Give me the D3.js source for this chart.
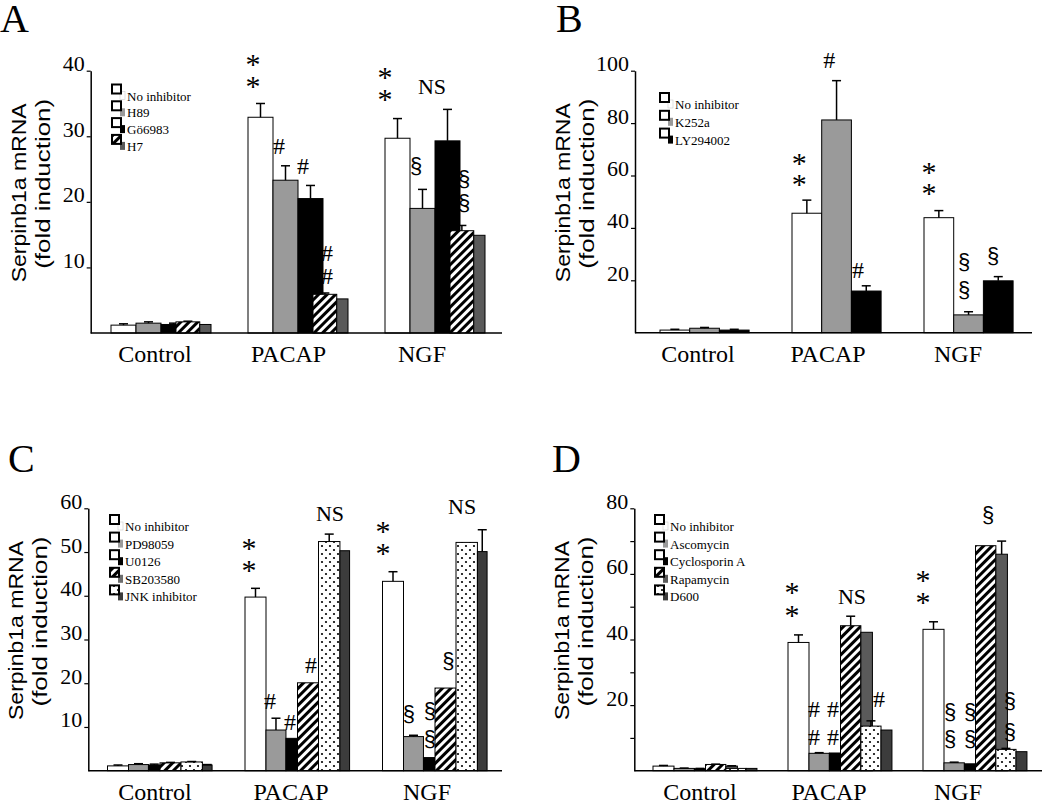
<!DOCTYPE html>
<html><head><meta charset="utf-8">
<script src="https://cdn.jsdelivr.net/npm/d3@7"></script>
<style>body{margin:0;background:#fff}svg{display:block}</style>
</head><body><svg id="c" width="1050" height="801"></svg>
<script>
const categories = ["Control", "PACAP", "NGF"];

// ---- Panel A ----
const seriesA = ["No inhibitor", "H89", "Gö6983", "H7"];
const valuesA = [[1.2, 1.5, 1.3, 1.7, 1.3], [32.9, 23.3, 20.5, 5.9, 5.2], [29.7, 19.0, 29.3, 15.6, 14.9]];
const errorsA = [[0.2, 0.2, 0.2, 0.1, 0], [2.1, 2.2, 2.0, 0.2, 0], [3.0, 2.9, 4.8, 0.8, 0]];
const ticksA = [10, 20, 30, 40];
const notesA = [["PACAP",0.2,41.7,"*"],["PACAP",0.2,38.3,"*"],["PACAP",1.24,28.5,"#"],["PACAP",2.2,25.5,"#"],
  ["PACAP",3.16,12.2,"#"],["PACAP",3.16,8.7,"#"],["NGF",0.0,39.7,"*"],["NGF",0.0,36.3,"*"],["NGF",1.88,37.6,"NS"],
  ["NGF",1.24,25.3,"§"],["NGF",3.16,23.4,"§"],["NGF",3.16,19.7,"§"]];

// ---- Panel B ----
const seriesB = ["No inhibitor", "K252a", "LY294002"];
const valuesB = [[1.0, 1.7, 1.0], [45.6, 81.2, 15.9], [43.9, 6.8, 19.8]];
const errorsB = [[0.3, 0.3, 0.3], [5.0, 15.0, 2.0], [2.7, 1.2, 1.6]];
const ticksB = [20, 40, 60, 80, 100];
const notesB = [["PACAP",0.24,66.3,"*"],["PACAP",0.24,58.3,"*"],["PACAP",1.25,104.1,"#"],["PACAP",2.22,23.9,"#"],
  ["NGF",0.17,62.9,"*"],["NGF",0.17,54.9,"*"],["NGF",1.35,26.6,"§"],["NGF",1.35,15.9,"§"],["NGF",2.33,28.9,"§"]];

// ---- Panel C ----
const seriesC = ["No inhibitor", "PD98059", "U0126", "SB203580", "JNK inhibitor"];
const valuesC = [[1.1, 1.4, 1.3, 1.8, 2.0, 1.3], [39.7, 9.3, 7.4, 20.1, 52.4, 50.3], [43.3, 7.8, 3.0, 18.9, 52.2, 50.1]];
const errorsC = [[0.2, 0.2, 0.2, 0.1, 0.1, 0.1], [2.0, 2.7, 0, 0, 1.7, 0], [2.2, 0.3, 0, 0, 0, 5.0]];
const ticksC = [10, 20, 30, 40, 50, 60];
const notesC = [["PACAP",0.19,51.8,"*"],["PACAP",0.19,46.8,"*"],["PACAP",4.05,58.9,"NS"],["PACAP",1.19,15.9,"#"],
  ["PACAP",2.14,11.1,"#"],["PACAP",3.14,24.2,"#"],["NGF",0.02,55.7,"*"],["NGF",0.02,50.7,"*"],["NGF",3.79,60.3,"NS"],
  ["NGF",1.26,12.7,"§"],["NGF",2.26,13.4,"§"],["NGF",2.26,7.0,"§"],["NGF",3.14,24.9,"§"]];

// ---- Panel D ----
const seriesD = ["No inhibitor", "Ascomycin", "Cyclosporin A", "Rapamycin", "D600"];
const valuesD = [[1.4, 0.7, 0.6, 1.9, 1.4, 0.7, 0.7], [39.1, 5.3, 5.4, 44.2, 42.2, 13.6, 12.4], [43.1, 2.4, 2.1, 68.6, 66.0, 6.5, 5.8]];
const errorsD = [[0.2, 0.1, 0.1, 0.1, 0.1, 0, 0], [2.3, 0.2, 0, 2.9, 0, 1.6, 0], [2.3, 0.2, 0, 0, 4.0, 0.3, 0]];
const ticksD = [20, 40, 60, 80];
const minorTicksD = [10, 30, 50, 70];
const notesD = [["PACAP",0.19,55.7,"*"],["PACAP",0.19,48.7,"*"],["PACAP",3.05,53.0,"NS"],["PACAP",1.24,18.8,"#"],
  ["PACAP",1.24,10.3,"#"],["PACAP",2.14,18.8,"#"],["PACAP",2.14,10.3,"#"],["PACAP",4.33,21.9,"#"],
  ["NGF",0.0,59.4,"*"],["NGF",0.0,52.7,"*"],["NGF",3.1,77.7,"§"],["NGF",1.29,17.6,"§"],["NGF",1.29,9.4,"§"],
  ["NGF",2.24,17.6,"§"],["NGF",2.24,9.4,"§"],["NGF",4.14,20.9,"§"],["NGF",4.14,11.5,"§"]];

// ---- styles ----
const fills = {white:"#ffffff", gray:"#9a9a9a", black:"#000000", hatch:"url(#hatch)", dots:"url(#dots)", dk:"#5a5a5a", dk2:"#3c3c3c", mid:"#6e6e6e"};

const svg = d3.select("#c");
svg.append("rect").attr("width",1050).attr("height",801).attr("fill","#fff");
const defs = svg.append("defs");
const hatch = defs.append("pattern").attr("id","hatch").attr("patternUnits","userSpaceOnUse")
  .attr("width",6).attr("height",6).attr("patternTransform","rotate(45)");
hatch.append("rect").attr("width",6).attr("height",6).attr("fill","#fff");
hatch.append("rect").attr("width",3).attr("height",6).attr("fill","#000");
const dots = defs.append("pattern").attr("id","dots").attr("patternUnits","userSpaceOnUse").attr("width",8).attr("height",8);
dots.append("rect").attr("width",8).attr("height",8).attr("fill","#fff");
dots.append("circle").attr("cx",2).attr("cy",2).attr("r",1.1).attr("fill","#000");
dots.append("circle").attr("cx",6).attr("cy",6).attr("r",1.1).attr("fill","#000");

const noteStyle = {
  "*": {font:"Liberation Serif", size:30, off:14},
  "#": {font:"Liberation Serif", size:24, off:8},
  "§": {font:"Liberation Sans", size:22, off:6},
  "NS": {font:"Liberation Serif", size:22, off:7.5}
};

function drawPanel(p) {
  const g = svg.append("g");
  const y = d3.scaleLinear().domain([0, p.yMax]).range([p.yBase, p.yTop]);
  const gx = d3.scalePoint().domain(categories).range(p.groupRange);
  const lx = d3.scalePoint().domain(categories).range(p.labelRange);

  // bars
  categories.forEach((c, ci) => {
    p.values[ci].forEach((v, li) => {
      const x0 = gx(c) + p.slots[li] * p.w, bw = p.widths[li] * p.w;
      g.append("rect").attr("x", x0).attr("y", y(v)).attr("width", bw).attr("height", y(0) - y(v))
        .attr("fill", fills[p.fills[li]]).attr("stroke", "#000").attr("stroke-width", 1);
      const e = p.errors[ci][li];
      if (e > 0) {
        const cx = x0 + bw / 2;
        g.append("line").attr("x1", cx).attr("x2", cx).attr("y1", y(v)).attr("y2", y(v + e))
          .attr("stroke", "#000").attr("stroke-width", 1.5);
        g.append("line").attr("x1", cx - 4.5).attr("x2", cx + 4.5).attr("y1", y(v + e)).attr("y2", y(v + e))
          .attr("stroke", "#000").attr("stroke-width", 1.5);
      }
    });
  });

  // axes
  const yAxis = d3.axisLeft(y).tickValues(p.ticks).tickSize(4).tickSizeOuter(0).tickPadding(2).tickFormat(d3.format("d"));
  const ag = g.append("g").attr("transform", `translate(${p.ax},0)`).call(yAxis)
    .attr("font-family", "Liberation Serif").attr("font-size", 22);
  ag.select(".domain").attr("stroke-width", 1.5);
  ag.selectAll(".tick line").attr("stroke-width", 1.2);
  ag.selectAll("text").attr("dy", "0").attr("fill", "#000");
  if (p.minor) {
    const mg = g.append("g").attr("transform", `translate(${p.ax},0)`)
      .call(d3.axisLeft(y).tickValues(p.minor).tickSize(4).tickSizeOuter(0).tickFormat(""));
    mg.select(".domain").remove();
    mg.selectAll(".tick line").attr("stroke-width", 1.2);
  }
  g.append("line").attr("x1", p.ax).attr("x2", p.xEnd).attr("y1", y(0)).attr("y2", y(0))
    .attr("stroke", "#000").attr("stroke-width", 1.5);

  // category labels
  categories.forEach(c => {
    g.append("text").attr("x", lx(c)).attr("y", y(0) + 29).attr("text-anchor", "middle")
      .attr("font-family", "Liberation Serif").attr("font-size", 24).text(c);
  });

  // y title
  const yc = (p.yBase + p.yTop) / 2;
  g.append("text").attr("transform", `translate(${p.ax - 65},${yc - 9}) rotate(-90)`).attr("text-anchor", "middle")
    .attr("font-family", "Liberation Sans").attr("font-size", 21)
    .attr("textLength", 179).attr("lengthAdjust", "spacingAndGlyphs").text("Serpinb1a mRNA");
  g.append("text").attr("transform", `translate(${p.ax - 41},${yc - 18}) rotate(-90)`).attr("text-anchor", "middle")
    .attr("font-family", "Liberation Sans").attr("font-size", 21)
    .attr("textLength", 170).attr("lengthAdjust", "spacingAndGlyphs").text("(fold induction)");

  // panel letter
  g.append("text").attr("x", p.letterPos[0]).attr("y", p.letterPos[1]).attr("font-family", "Liberation Serif")
    .attr("font-size", 40).text(p.letter);

  // legend
  p.series.forEach((s, i) => {
    const top = p.legend.top + i * p.legend.step, x = p.legend.x;
    g.append("rect").attr("x", x + 8).attr("y", top + 7).attr("width", 5).attr("height", 8)
      .attr("fill", fills[p.legend.swatch[i]]).attr("stroke", p.legend.swatch[i] === "white" ? "#ccc" : "none").attr("stroke-width", 0.6);
    g.append("rect").attr("x", x).attr("y", top).attr("width", 9).attr("height", 9)
      .attr("fill", fills[p.legend.square[i]]).attr("stroke", "#000").attr("stroke-width", 2);
    g.append("text").attr("x", x + 15).attr("y", top + 16).attr("font-family", "Liberation Serif")
      .attr("font-size", 13).text(s);
  });

  // significance marks
  p.notes.forEach(([c, slot, v, t]) => {
    const st = noteStyle[t];
    g.append("text").attr("x", gx(c) + slot * p.w).attr("y", y(v) + st.off).attr("text-anchor", "middle")
      .attr("font-family", st.font).attr("font-size", st.size).text(t);
  });
}

drawPanel({ax:90.7, xEnd:502, yBase:333, yTop:70.7, yMax:40, ticks:ticksA, groupRange:[111,385], w:25,
  slots:[0,1,2,2.6,3.55], widths:[1,1,1,0.95,0.45], fills:["white","gray","black","hatch","dk"],
  values:valuesA, errors:errorsA, labelRange:[155,422], letter:"A", letterPos:[0,32], series:seriesA,
  legend:{x:112, top:84.5, step:16.8, square:["white","white","white","hatch"], swatch:["white","gray","black","dk"]},
  notes:notesA});

drawPanel({ax:635, xEnd:1032, yBase:332.7, yTop:70.7, yMax:100, ticks:ticksB, groupRange:[660,924], w:29.7,
  slots:[0,1,2], widths:[1,1,1], fills:["white","gray","black"],
  values:valuesB, errors:errorsB, labelRange:[698,958], letter:"B", letterPos:[556,32], series:seriesB,
  legend:{x:660, top:93, step:17.8, square:["white","white","white"], swatch:["white","gray","black"]},
  notes:notesB});

drawPanel({ax:88.3, xEnd:502, yBase:770.7, yTop:508.3, yMax:60, ticks:ticksC, groupRange:[107.5,382.5], w:21,
  slots:[0,1,1.95,2.5,3.5,4.52], widths:[1,0.95,0.55,1,1.02,0.46], fills:["white","gray","black","hatch","dots","dk2"],
  values:valuesC, errors:errorsC, labelRange:[155,427], letter:"C", letterPos:[8,472], series:seriesC,
  legend:{x:110, top:515, step:17.6, square:["white","white","white","hatch","dots"], swatch:["white","gray","black","mid","dk2"]},
  notes:notesC});

drawPanel({ax:634.3, xEnd:1042, yBase:770.7, yTop:508.3, yMax:80, ticks:ticksD, minor:minorTicksD, groupRange:[653,923], w:21,
  slots:[0,1,1.97,2.5,3.47,3.47,4.43], widths:[1,0.97,0.53,0.97,0.55,0.96,0.52], fills:["white","gray","black","hatch","dk","dots","dk2"],
  values:valuesD, errors:errorsD, labelRange:[700,958], letter:"D", letterPos:[552,472], series:seriesD,
  legend:{x:655, top:515, step:17.6, square:["white","white","white","hatch","dots"], swatch:["white","gray","black","dk","dk2"]},
  notes:notesD});
</script>
</body></html>
